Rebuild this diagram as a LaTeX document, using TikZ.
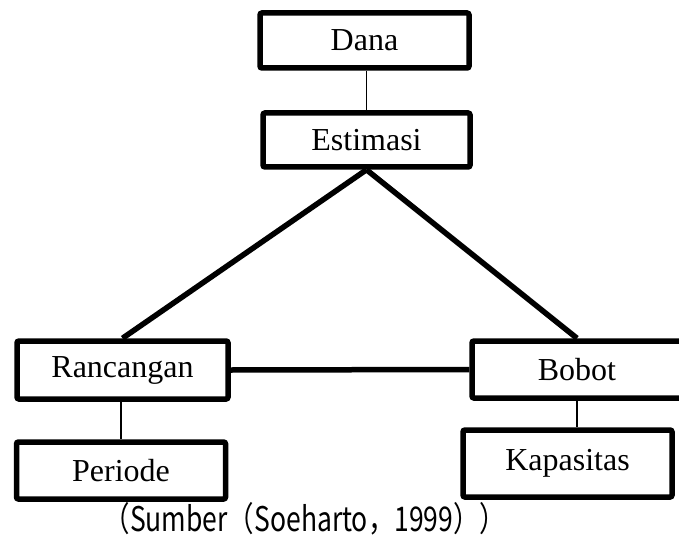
\documentclass[tikz,border=0pt]{standalone}
\usepackage{fontspec}
\setmainfont{Liberation Serif}
\newfontfamily\capfont{Noto Sans CJK JP}
\begin{document}
\begin{tikzpicture}[x=1pt,y=-1pt,font=\fontsize{32}{36}\selectfont,
  bx/.style={draw,line width=5.5pt,rounded corners=2pt,minimum width=209pt,minimum height=55pt,inner sep=0pt},
  thk/.style={line width=5.5pt},
  thn/.style={line width=1.2pt}]
  \useasboundingbox (0,0) rectangle (679,540);
  \node[bx](dana) at (364.5,40.5){Dana};
  \node[bx,minimum width=207pt,minimum height=54pt](est) at (366.5,140){Estimasi};
  \node[bx,minimum width=211pt,minimum height=58pt](ranc) at (122.5,370){Rancangan};
  \node[bx,minimum height=57pt](per) at (121,470.5){Periode};
  \node[bx,minimum width=210pt,minimum height=57pt](bob) at (577,369.5){Bobot};
  \node[bx,minimum height=67pt](kap) at (567.5,463.5){Kapasitas};
  \node[font=\capfont\fontsize{34}{36}\selectfont,xscale=0.78](src) at (305,519){（Sumber（Soeharto，1999））};
  \draw[thn](est.north -| est.south)--(est.south |- dana.south);
  \draw[thk](est.south)--(ranc.north);
  \draw[thk](est.south)--(bob.north);
  \draw[thk](ranc.east)--(bob.west);
  \draw[thn](ranc.south -| per.north)--(per.north);
  \draw[thn](bob.south)--(bob.south |- kap.north);
\end{tikzpicture}
\end{document}
